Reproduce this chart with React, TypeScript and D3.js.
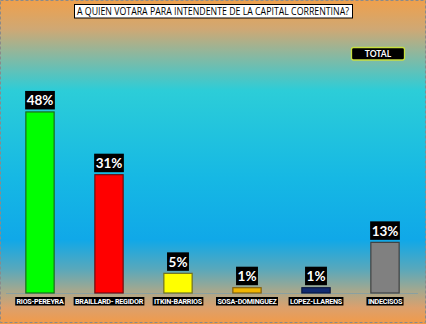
import React, { useEffect, useRef } from "react";
import * as d3 from "d3";

const TITLE = "A QUIEN VOTARA PARA INTENDENTE DE LA CAPITAL CORRENTINA?";
const LEGEND = "TOTAL";
const categories = ["RIOS-PEREYRA", "BRAILLARD- REGIDOR", "ITKIN-BARRIOS", "SOSA-DOMINGUEZ", "LOPEZ-LLARENS", "INDECISOS"];
const values = [47.9, 31.3, 5.2, 1.4, 1.4, 13.4];
const labels = ["48%", "31%", "5%", "1%", "1%", "13%"];
const colors = ["#00ff00", "#ff0000", "#ffff00", "#f0b400", "#102a70", "#808080"];
const strokes = ["#1a6a1a", "#6a1010", "#707020", "#806010", "#0a1840", "#404040"];

const W = 426, H = 324;

export default function App() {
  const ref = useRef<SVGSVGElement>(null);
  useEffect(() => {
    const svg = d3.select(ref.current);
    svg.selectAll("*").remove();
    const defs = svg.append("defs");
    const g = defs.append("linearGradient").attr("id", "bg").attr("x1", 0).attr("y1", 0).attr("x2", 0).attr("y2", 1);
    const stops: [number, string][] = [
      [0, "#efa04c"], [0.09, "#cfa874"], [0.17, "#8ab8a0"], [0.28, "#2ccdd8"],
      [0.55, "#16b8e4"], [0.74, "#10a8e8"], [0.83, "#58a8bc"], [0.9, "#a8a88c"],
      [0.95, "#dca06c"], [1, "#f29a48"],
    ];
    stops.forEach(([o, c]) => g.append("stop").attr("offset", o).attr("stop-color", c));

    svg.append("rect").attr("width", W).attr("height", H).attr("fill", "url(#bg)");
    svg.append("rect").attr("x", 0.5).attr("y", 0.5).attr("width", W - 1).attr("height", H - 2)
      .attr("fill", "none").attr("stroke", "#8a8a8a").attr("stroke-width", 1).attr("stroke-dasharray", "3,2");

    const x = d3.scaleBand().domain(categories).range([5.5, 419.5]).paddingInner(0.59).paddingOuter(0.295);
    const y = d3.scaleLinear().domain([0, 50]).range([293, 104]);

    svg.append("line").attr("x1", 6).attr("x2", 418).attr("y1", y(0) + 0.5).attr("y2", y(0) + 0.5)
      .attr("stroke", "#8aa0a0").attr("stroke-width", 1);

    categories.forEach((c, i) => {
      const bx = x(c)!;
      const bw = x.bandwidth();
      svg.append("rect").attr("x", bx).attr("y", y(values[i])).attr("width", bw)
        .attr("height", y(0) - y(values[i])).attr("fill", colors[i])
        .attr("stroke", strokes[i]).attr("stroke-width", 1.2);

      const cx = bx + bw / 2;
      const lg = svg.append("g");
      const t = lg.append("text").attr("x", cx).attr("y", y(values[i]) - 6.5)
        .attr("text-anchor", "middle").attr("fill", "#fff")
        .attr("font-family", "Lato, 'Open Sans', sans-serif").attr("font-weight", 700)
        .attr("font-size", 13.5).text(labels[i]);
      const bb = (t.node() as SVGTextElement).getBBox();
      lg.insert("rect", "text").attr("x", cx - bb.width / 2 - 1.5).attr("y", y(values[i]) - 21)
        .attr("width", bb.width + 3).attr("height", 18.5).attr("fill", "#000");

      const cg = svg.append("g");
      const ct = cg.append("text").attr("x", cx).attr("y", 303.8).attr("text-anchor", "middle")
        .attr("fill", "#fff").attr("font-family", "'Liberation Sans Narrow', 'Roboto', sans-serif")
        .attr("font-weight", 700).attr("font-size", 7.2).attr("letter-spacing", -0.25).text(c);
      const cb = (ct.node() as SVGTextElement).getBBox();
      cg.insert("rect", "text").attr("x", cx - cb.width / 2 - 1).attr("y", 297)
        .attr("width", cb.width + 2).attr("height", 8.5).attr("fill", "#000");
    });

    // Title
    svg.append("rect").attr("x", 74.5).attr("y", 4.5).attr("width", 278).attr("height", 13.5)
      .attr("fill", "#fff").attr("stroke", "#000").attr("stroke-width", 1);
    svg.append("text").attr("x", 77).attr("y", 15)
      .attr("font-family", "'Liberation Sans Narrow', 'Open Sans', sans-serif").attr("font-size", 10).attr("fill", "#000")
      .attr("textLength", 272).attr("lengthAdjust", "spacingAndGlyphs")
      .text(TITLE);

    // Legend
    svg.append("rect").attr("x", 351.5).attr("y", 47.5).attr("width", 53).attr("height", 12.5)
      .attr("rx", 2).attr("fill", "#000").attr("stroke", "#c8e040").attr("stroke-width", 1.3);
    svg.append("text").attr("x", 378).attr("y", 57).attr("text-anchor", "middle")
      .attr("font-family", "Lato, 'Open Sans', sans-serif").attr("font-weight", 700)
      .attr("font-size", 8.5).attr("fill", "#fff").text(LEGEND);
  }, []);

  return (
    <svg ref={ref} width={W} height={H} style={{ position: "absolute", left: 0, top: 0, display: "block" }} />
  );
}
